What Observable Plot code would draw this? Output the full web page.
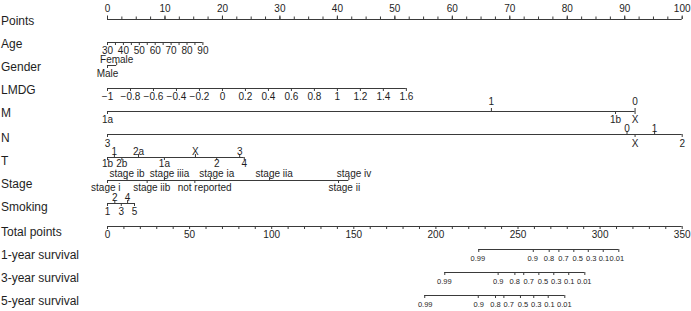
<!DOCTYPE html>
<html><head><meta charset="utf-8">
<script src="https://cdn.jsdelivr.net/npm/d3@7"></script>
<script src="https://cdn.jsdelivr.net/npm/@observablehq/plot@0.6"></script>
<style>body{margin:0;background:#fff} svg{display:block}</style>
</head><body><div id="chart"></div>
<script>
// ---- data ----
const rows = ["Points","Age","Gender","LMDG","M","N","T","Stage","Smoking","Total points","1-year survival","3-year survival","5-year survival"];

const pointsTicks = [0,10,20,30,40,50,60,70,80,90,100];

const ageTicks = [30,40,50,60,70,80,90];
const ageMinor = [35,45,55,65,75,85];
const ageDomain = [30,90];
const agePointsRange = [0,16.6];

const lmdgTicks = [-1,-0.8,-0.6,-0.4,-0.2,0,0.2,0.4,0.6,0.8,1,1.2,1.4,1.6];
const lmdgDomain = [-1,1.6];
const lmdgPointsRange = [0,52];

const genderLevels = ["Male","Female"];
const genderPoints = [0,1.6];
const genderSide   = ["below","above"];

const mLevels = ["1a","1","1b","0","X"];
const mPoints = [0,66.8,88.4,91.8,91.8];
const mSide   = ["below","above","below","above","below"];

const nLevels = ["3","0","X","1","2"];
const nPoints = [0,90.4,91.8,95.2,100];
const nSide   = ["below","above","below","above","below"];

const tLevels = ["1b","1","2b","2a","1a","X","2","3","4"];
const tPoints = [0,1.2,2.5,5.4,9.9,15.3,19.0,23.0,23.8];
const tSide   = ["below","above","below","above","below","above","below","above","below"];

const stageLevels = ["stage i","stage ib","stage iib","stage iiia","not reported","stage ia","stage iia","stage ii","stage iv"];
const stagePoints      = [0,3.4,6.9,9.9,15.2,17.9,28.2,40.2,42.0];   // tick positions
const stageLabelPoints = [-0.3,3.4,7.7,10.8,16.9,19.0,29.0,41.2,42.9]; // label centres
const stageSide   = ["below","above","below","above","below","above","above","below","above"];

const smokingLevels = ["1","2","3","4","5"];
const smokingPoints = [0,1.27,2.4,3.5,4.7];
const smokingSide   = ["below","above","below","above","below"];

const totalTicks = [0,50,100,150,200,250,300,350];
const totalMax = 350;

const survLabels = ["0.99","0.9","0.8","0.7","0.5","0.3","0.1","0.01"];
const surv1Total = [226.1,259.3,269.0,274.9,284.0,292.8,301.9,311.4];
const surv3Total = [205.4,237.9,248.1,253.5,262.7,271.8,280.9,290.7];
const surv5Total = [193.2,225.8,236.3,241.4,251.5,259.6,268.4,278.5];
// label centres (spread apart so they do not collide)
const surv1LabelTotal = [225.5,258.9,268.9,277.7,286.4,294.6,302.3,310.2];
const surv3LabelTotal = [205.1,238.0,248.0,256.5,265.2,273.3,281.2,290.3];
const surv5LabelTotal = [193.5,226.1,236.3,244.4,253.0,261.1,269.1,278.2];

// ---- build tables ----
const ageScale = d3.scaleLinear(ageDomain, agePointsRange);
const lmdgScale = d3.scaleLinear(lmdgDomain, lmdgPointsRange);
const toPts = t => t * 100 / totalMax;

const cat = [];
function addCat(row, levels, pts, side, labelPts = pts) {
  levels.forEach((l, i) => cat.push({row, label: l, pts: pts[i], lpts: labelPts[i], side: side[i]}));
}
addCat("Gender", genderLevels, genderPoints, genderSide);
addCat("M", mLevels, mPoints, mSide);
addCat("N", nLevels, nPoints, nSide);
addCat("T", tLevels, tPoints, tSide);
addCat("Stage", stageLevels, stagePoints, stageSide, stageLabelPoints);
addCat("Smoking", smokingLevels, smokingPoints, smokingSide);

const contLabels = [];
ageTicks.forEach(a => contLabels.push({row: "Age", label: String(a), pts: ageScale(a)}));
lmdgTicks.forEach(v => contLabels.push({row: "LMDG", label: (v < 0 ? "\u2212" : "") + d3.format("~g")(Math.abs(v)), pts: lmdgScale(v)}));
totalTicks.forEach(t => contLabels.push({row: "Total points", label: String(t), pts: toPts(t)}));

const contTicks = [
  ...ageTicks.concat(ageMinor).map(a => ({row: "Age", pts: ageScale(a)})),
  ...lmdgTicks.map(v => ({row: "LMDG", pts: lmdgScale(v)})),
  ...d3.range(0, totalMax + 1, 10).map(t => ({row: "Total points", pts: toPts(t)}))
];

const surv = [];
[["1-year survival", surv1Total, surv1LabelTotal], ["3-year survival", surv3Total, surv3LabelTotal], ["5-year survival", surv5Total, surv5LabelTotal]].forEach(([row, vals, labs]) =>
  vals.forEach((v, i) => surv.push({row, label: survLabels[i], pts: toPts(v), lpts: toPts(labs[i])})));

const pointsMinor = d3.range(0, 100.01, 2.5).map(p => ({row: "Points", pts: p}));
const pointsLab = pointsTicks.map(p => ({row: "Points", label: String(p), pts: p}));

const allPos = [...cat, ...contTicks, ...surv, ...pointsMinor];
const lines = d3.groups(allPos, d => d.row).map(([row, v]) => ({row, x1: d3.min(v, d => d.pts), x2: d3.max(v, d => d.pts)}));

// ---- layout / style (not data) ----
const ink = "#1e1e1e";
const lineInk = "#3a3a3a";
const labelOffset = {
  Gender:  {above: -5.5, below: 8.5},
  M:       {above: -9.5, below: 8.5},
  N:       {above: -6,   below: 9},
  T:       {above: -6,   below: 6.5},
  Stage:   {above: -7,   below: 7},
  Smoking: {above: -6,   below: 8}
};

const up = (data, len) => Plot.ruleX(data, {x: "pts", y1: "row", y2: "row", insetTop: -len, insetBottom: 0, stroke: lineInk});
const down = (data, len) => Plot.ruleX(data, {x: "pts", y1: "row", y2: "row", insetTop: 0, insetBottom: -len, stroke: lineInk});
const rowLabel = (data, dy) => Plot.text(data, {y: d => d, text: d => d, frameAnchor: "left", textAnchor: "start", dx: -106.5, dy, fontSize: 12, fill: ink});

const catText = [];
for (const [row, off] of Object.entries(labelOffset)) {
  for (const side of ["above", "below"]) {
    catText.push(Plot.text(cat.filter(d => d.row === row && d.side === side), {x: "lpts", y: "row", text: "label", dy: off[side], fill: ink}));
  }
}

const chart = Plot.plot({
  width: 691,
  height: 311,
  marginLeft: 107,
  marginRight: 9,
  marginTop: 0,
  marginBottom: 0,
  style: {fontFamily: "'Liberation Sans', Arial, Helvetica, sans-serif", fontSize: "10px", color: ink, background: "#fff"},
  x: {domain: [0, 100], range: [107, 681.7], axis: null},
  y: {type: "point", domain: rows, range: [19, 295], padding: 0, axis: null},
  marks: [
    // row labels
    rowLabel(rows.slice(0, 5), 1.5),
    rowLabel(rows.slice(5, 9), 4),
    rowLabel(rows.slice(9), 6),
    // axis lines
    Plot.ruleY(lines, {y: "row", x1: "x1", x2: "x2", stroke: lineInk, strokeWidth: 1}),
    // Points axis
    up(pointsMinor, 2.5),
    up(pointsLab, 3.5),
    Plot.text(pointsLab, {x: "pts", y: "row", text: "label", dy: -11, fill: ink}),
    // continuous axes (labels below)
    down(contTicks, 3),
    Plot.text(contLabels, {x: "pts", y: "row", text: "label", dy: 8, fill: ink}),
    // categorical axes
    up(cat.filter(d => d.side === "above"), 3),
    down(cat.filter(d => d.side === "below"), 3),
    ...catText,
    // survival axes
    down(surv, 3),
    Plot.text(surv, {x: "lpts", y: "row", text: "label", dy: 9, fontSize: 7.5, fill: ink})
  ]
});
document.getElementById("chart").appendChild(chart);
</script>
</body></html>
